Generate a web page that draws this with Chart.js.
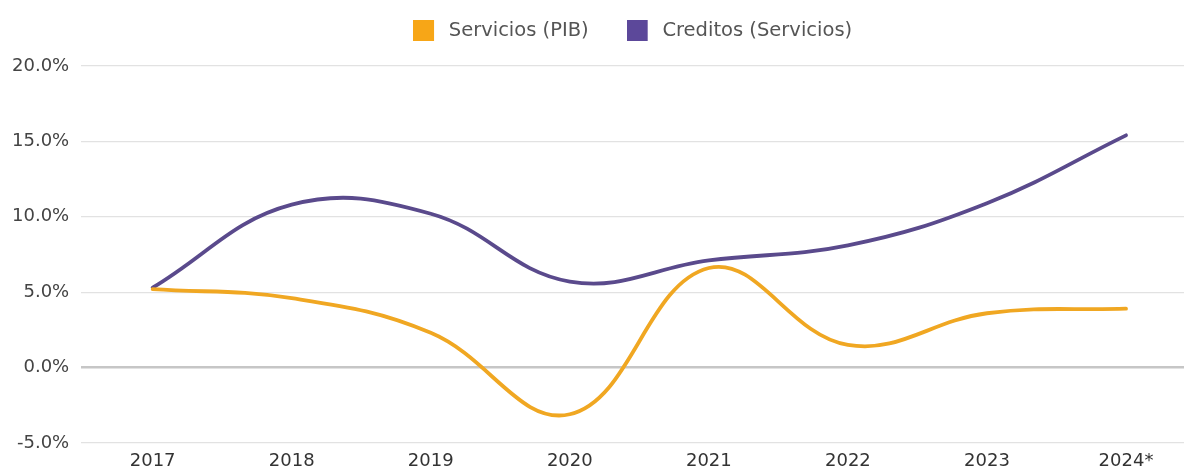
<!DOCTYPE html>
<html lang="es">
<head>
  <meta charset="UTF-8">
  <title>Servicios: PIB y Créditos</title>
  <script src="https://cdn.jsdelivr.net/npm/chart.js"></script>
  <style>
    html, body {
      margin: 0;
      padding: 0;
      background: #fff;
    }
    #grafico {
      display: block;
    }
  </style>
</head>
<body>
<canvas id="grafico" width="1184" height="472"></canvas>
<script>
const anios = ['2017', '2018', '2019', '2020', '2021', '2022', '2023', '2024*'];
const serviciosPib = [5.2, 4.6, 2.3, -3.1, 6.6, 1.5, 3.6, 3.9];
const creditosServicios = [5.3, 10.8, 10.2, 5.7, 7.1, 8.1, 10.9, 15.4];
const ticksY = [-5, 0, 5, 10, 15, 20];

const NARANJA = '#F0A722';
const MORADO = '#5A4A8C';
const fuente = { family: "'DejaVu Sans', sans-serif", size: 18 };

// cuadrito de la leyenda, con el hueco hasta el texto incluido
function muestra(color) {
  const c = document.createElement('canvas');
  c.width = 26;
  c.height = 21;
  const g = c.getContext('2d');
  g.fillStyle = color;
  g.fillRect(0, 0, 21, 21);
  return c;
}

// espacio extra entre la leyenda y el area del grafico
const espacioLeyenda = {
  id: 'espacioLeyenda',
  beforeInit(chart) {
    const fitOriginal = chart.legend.fit;
    chart.legend.fit = function () {
      fitOriginal.call(this);
      this.height += 15.5;
    };
  }
};

const puntos = arr => arr.map((v, i) => ({ x: i, y: v }));

new Chart(document.getElementById('grafico'), {
  type: 'line',
  data: {
    datasets: [
      {
        label: 'Servicios (PIB)',
        data: puntos(serviciosPib),
        borderColor: NARANJA,
        backgroundColor: '#F7A617',
        pointStyle: muestra('#F7A617'),
        borderWidth: 3.8,
        tension: 0.4
      },
      {
        label: 'Creditos (Servicios)',
        data: puntos(creditosServicios),
        borderColor: MORADO,
        backgroundColor: '#5C489A',
        pointStyle: muestra('#5C489A'),
        borderWidth: 3.8,
        tension: 0.4
      }
    ]
  },
  options: {
    responsive: false,
    animation: false,
    devicePixelRatio: 1,
    layout: { padding: { top: -17, left: 0, right: 0, bottom: -8.5 } },
    elements: {
      point: { radius: 0, hoverRadius: 0 },
      line: { borderCapStyle: 'round' }
    },
    plugins: {
      legend: {
        position: 'top',
        fullSize: false,
        labels: {
          usePointStyle: true,
          pointStyleWidth: 26,
          padding: 38,
          color: '#555',
          font: { family: fuente.family, size: 19.5 }
        }
      },
      tooltip: { enabled: false }
    },
    scales: {
      x: {
        type: 'linear',
        min: -0.514,
        max: 7.417,
        afterBuildTicks: scale => {
          scale.ticks = anios.map((_, i) => ({ value: i }));
        },
        grid: { display: false, drawTicks: false },
        border: { display: false },
        ticks: {
          padding: 8,
          color: '#333',
          font: fuente,
          autoSkip: false,
          maxRotation: 0,
          callback: v => anios[v]
        }
      },
      y: {
        min: -5,
        max: 20,
        afterBuildTicks: scale => {
          scale.ticks = ticksY.map(v => ({ value: v }));
        },
        grid: {
          drawTicks: false,
          color: ctx => ctx.tick && ctx.tick.value === 0 ? '#c6c6c6' : '#e2e2e2',
          lineWidth: ctx => ctx.tick && ctx.tick.value === 0 ? 2.5 : 1.2
        },
        border: { display: false },
        ticks: {
          padding: 12,
          color: '#444',
          font: fuente,
          callback: v => v.toFixed(1) + '%'
        }
      }
    }
  },
  plugins: [espacioLeyenda]
});
</script>
</body>
</html>
